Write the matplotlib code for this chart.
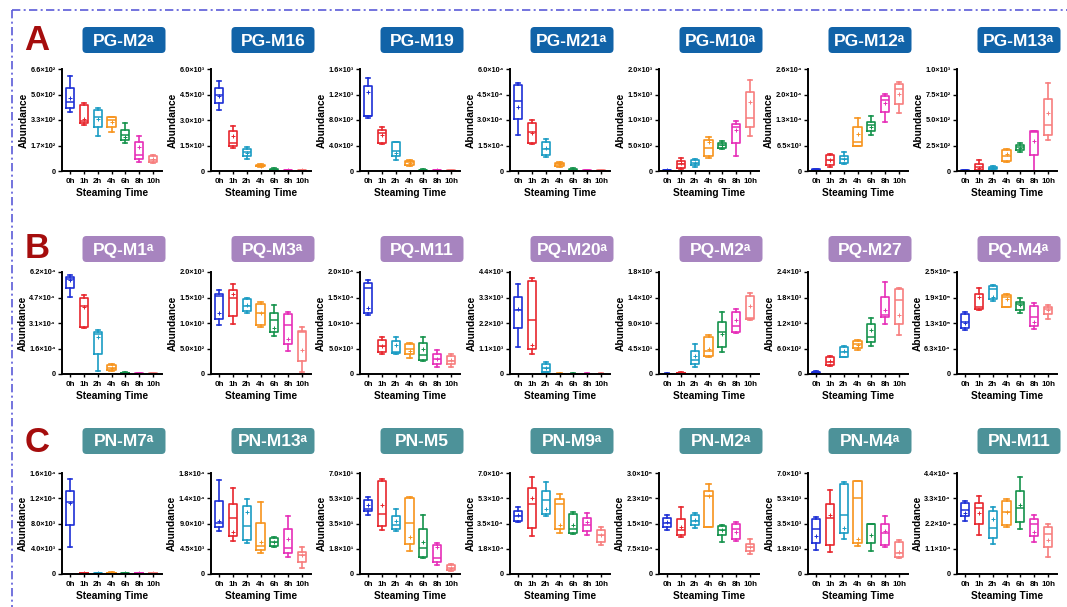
import matplotlib
matplotlib.use('Agg')
import matplotlib.pyplot as plt
from matplotlib.patches import FancyBboxPatch

plt.rcParams['font.family'] = ['Liberation Sans', 'DejaVu Sans']

categories = ['0h', '1h', '2h', '4h', '6h', '8h', '10h']
cat_colors = ['#1c2fd6', '#e8262d', '#1a9cc4', '#f7941d', '#14924b', '#e62eb8', '#f77e7e']

# each row: [min, q1, median, q3, max, mean] for one steaming time
PG_M2 = [[384, 405, 444, 539, 617, 474], [298, 313, 326, 427, 442, 336], [229, 287, 352, 395, 410, 337],
         [250, 287, 330, 347, 352, 315], [179, 200, 233, 265, 308, 222], [60, 78, 104, 190, 229, 157],
         [50, 56, 71, 99, 103, 78]]
PG_M16 = [[3584, 4020, 4475, 4871, 5267, 4436], [1347, 1446, 1644, 2337, 2634, 2079], [713, 911, 1089, 1307, 1386, 1050],
          [220, 270, 320, 380, 430, 320], [10, 30, 70, 120, 160, 80], [10, 20, 40, 60, 80, 40],
          [10, 20, 30, 50, 60, 35]]
PG_M19 = [[835, 860, 870, 1335, 1457, 1240], [422, 438, 600, 650, 686, 560], [174, 243, 306, 449, 454, 290],
          [85, 95, 137, 158, 174, 130], [2, 6, 12, 20, 26, 12], [2, 4, 8, 12, 15, 8], [2, 4, 7, 11, 14, 7]]
PG_M21 = [[21400, 30300, 41200, 50500, 51500, 37800], [16000, 16400, 22800, 28300, 29900, 22500],
          [8100, 9500, 12900, 17000, 18800, 13500], [2600, 3200, 4200, 5000, 5500, 4200],
          [100, 200, 500, 900, 1600, 600], [50, 100, 200, 300, 400, 200], [50, 100, 200, 300, 400, 200]]
PG_M10 = [[3, 6, 10, 14, 18, 10], [46, 66, 131, 197, 262, 164], [85, 111, 164, 216, 243, 164],
          [262, 295, 459, 610, 675, 577], [426, 446, 511, 557, 590, 505], [295, 557, 866, 931, 977, 807],
          [689, 872, 1036, 1554, 1790, 1344]]
PG_M12 = [[100, 200, 300, 400, 500, 300], [1100, 1540, 2830, 4100, 4400, 2800], [1800, 2150, 3090, 3950, 4800, 3100],
          [6300, 6500, 7300, 11200, 13600, 9400], [9300, 10100, 11600, 12500, 14000, 11200],
          [12500, 15000, 18000, 19000, 19600, 17400], [14700, 17200, 20900, 22300, 22700, 19600]]
PG_M13 = [[0, 2, 4, 6, 8, 4], [0, 10, 43, 66, 109, 33], [10, 17, 33, 43, 53, 30], [86, 102, 149, 201, 218, 168],
          [191, 201, 231, 251, 274, 230], [0, 158, 380, 389, 396, 297], [300, 350, 449, 710, 861, 564]]

PQ_M1 = [[46800, 52500, 57900, 58900, 60400, 57000], [27800, 28400, 41400, 45900, 48000, 41000],
         [2100, 12400, 24300, 25300, 26800, 22700], [1600, 2300, 3700, 5400, 5800, 3700],
         [200, 400, 600, 800, 1000, 600], [100, 200, 300, 400, 500, 300], [100, 200, 300, 400, 500, 300]]
PQ_M3 = [[970, 1088, 1528, 1574, 1646, 1187], [990, 1134, 1495, 1646, 1757, 1574], [1187, 1233, 1331, 1462, 1482, 1350],
         [925, 957, 1200, 1364, 1410, 1200], [754, 826, 1056, 1187, 1344, 900], [459, 590, 970, 1180, 1220, 689],
         [33, 249, 826, 852, 918, 479]]
PQ_M11 = [[11600, 11900, 16900, 17900, 18400, 13000], [3900, 4400, 5400, 6700, 7200, 5400],
          [3900, 4100, 4300, 6400, 7300, 5600], [3100, 3900, 4900, 5900, 6000, 4500],
          [2560, 2750, 3700, 6000, 7300, 5000], [1440, 1900, 2900, 3900, 4700, 3000],
          [1440, 1900, 2500, 3500, 3900, 2700]]
PQ_M20 = [[1150, 2000, 2770, 3320, 3900, 2800], [866, 1080, 2340, 4000, 4140, 1230], [72, 101, 245, 433, 534, 250],
          [5, 10, 15, 20, 30, 15], [5, 10, 15, 20, 30, 15], [5, 10, 15, 20, 30, 15], [5, 10, 15, 20, 30, 15]]
PQ_M2 = [[0.2, 0.4, 0.6, 0.8, 1.2, 0.6], [0.5, 1, 1.5, 2.5, 3.5, 1.5], [13, 18, 24, 41, 53, 32],
         [30, 31, 40, 65, 68, 45], [38, 48, 75, 91, 109, 70], [72, 75, 84, 109, 115, 95], [96, 97, 99, 137, 143, 120]]
PQ_M27 = [[20, 30, 45, 55, 70, 45], [188, 211, 289, 391, 422, 300], [391, 407, 524, 641, 657, 530],
          [563, 602, 704, 782, 797, 690], [664, 758, 876, 1165, 1321, 1032], [1188, 1345, 1384, 1814, 2165, 1501],
          [915, 1172, 1735, 2009, 2032, 1384]]
PQ_M4 = [[109000, 112000, 128000, 146000, 152000, 125000], [156000, 160000, 164000, 197000, 211000, 189000],
         [178000, 185000, 209000, 216000, 219000, 189000], [164000, 164000, 189000, 193000, 197000, 185000],
         [150000, 156000, 171000, 177000, 187000, 170000], [110000, 118000, 140000, 166000, 174000, 128000],
         [134000, 146000, 160000, 163000, 169000, 158000]]

PN_M7 = [[4300, 7800, 11400, 13200, 15000, 11200], [50, 80, 110, 150, 200, 110], [40, 70, 100, 130, 170, 100],
         [60, 100, 140, 190, 240, 140], [40, 70, 100, 130, 170, 100], [50, 80, 110, 150, 200, 110],
         [50, 80, 120, 160, 210, 120]]
PN_M13 = [[7700, 8400, 9100, 13000, 16800, 9500], [5900, 6800, 9900, 12400, 15300, 7500],
          [5600, 6000, 8600, 12100, 13400, 11000], [3700, 4300, 5000, 9100, 12800, 5700],
          [4900, 5000, 5700, 6500, 6600, 5700], [3100, 3700, 4600, 8100, 10400, 6300],
          [1000, 2100, 3400, 4000, 4900, 3400]]
PN_M5 = [[41, 44, 45.2, 51, 53.7, 48], [30.8, 33, 41.3, 64.3, 65.9, 48], [29.6, 31.4, 33.7, 40.2, 44.8, 36.5],
         [15.8, 20.7, 35.4, 52.6, 53.2, 25.7], [10.8, 11.9, 18.1, 31.4, 40.6, 22.3], [6.2, 8.5, 10.8, 20, 21.6, 19],
         [2.3, 2.8, 4.4, 6.2, 6.9, 4.4]]
PN_M9 = [[36000, 36700, 40000, 43600, 46400, 41100], [26200, 32100, 48200, 59700, 67500, 52600],
         [39900, 41800, 51400, 57400, 63600, 45000], [28700, 31400, 48700, 52100, 55100, 33700],
         [28000, 28500, 31400, 41300, 42900, 34000], [26900, 29800, 33700, 39000, 42200, 36000],
         [20400, 22300, 26900, 30300, 32600, 26900]]
PN_M2 = [[130000, 140000, 152000, 167000, 174000, 155000], [110000, 117000, 131000, 164000, 199000, 140000],
         [137000, 145000, 157000, 176000, 182000, 160000], [140000, 140000, 231000, 246000, 266000, 231000],
         [95000, 115000, 130000, 143000, 147000, 130000], [98000, 105000, 135000, 149000, 154000, 125000],
         [59000, 69000, 81000, 90000, 103000, 80000]]
PN_M4 = [[1650, 2160, 3140, 3830, 3950, 2600], [1540, 2040, 3900, 4870, 5830, 4100],
         [2460, 2870, 4060, 6240, 6400, 3210], [1930, 2160, 5280, 6470, 6470, 2400],
         [1610, 2160, 3490, 3490, 3490, 2690], [1880, 2040, 2850, 3440, 3990, 3000],
         [1080, 1150, 1470, 2230, 2340, 1500]]
PN_M11 = [[23100, 25100, 28000, 31000, 32000, 26500], [16900, 21900, 28700, 31000, 33800, 26500],
          [13000, 15700, 20200, 27300, 29100, 24000], [20500, 21500, 27000, 32000, 32500, 27000],
          [19800, 22600, 28900, 36100, 42400, 30000], [14000, 16600, 21600, 24100, 25500, 18500],
          [7500, 11800, 17600, 20500, 21600, 15000]]

# metabolite names and whether they carry the superscript "a"
names_A = ['PG-M2', 'PG-M16', 'PG-M19', 'PG-M21', 'PG-M10', 'PG-M12', 'PG-M13']
sup_A = [True, False, False, True, True, True, True]
names_B = ['PQ-M1', 'PQ-M3', 'PQ-M11', 'PQ-M20', 'PQ-M2', 'PQ-M27', 'PQ-M4']
sup_B = [True, True, False, True, True, False, True]
names_C = ['PN-M7', 'PN-M13', 'PN-M5', 'PN-M9', 'PN-M2', 'PN-M4', 'PN-M11']
sup_C = [True, True, False, True, True, True, False]

data_A = [PG_M2, PG_M16, PG_M19, PG_M21, PG_M10, PG_M12, PG_M13]
data_B = [PQ_M1, PQ_M3, PQ_M11, PQ_M20, PQ_M2, PQ_M27, PQ_M4]
data_C = [PN_M7, PN_M13, PN_M5, PN_M9, PN_M2, PN_M4, PN_M11]

ymax_A = [660, 6000, 1600, 60000, 2000, 26000, 1000]
ymax_B = [62000, 2000, 20000, 4400, 180, 2400, 250000]
ymax_C = [16000, 18000, 70, 70000, 300000, 7000, 44000]

yticklabels_A = [
    ['0', '1.7×10²', '3.3×10²', '5.0×10²', '6.6×10²'],
    ['0', '1.5×10³', '3.0×10³', '4.5×10³', '6.0×10³'],
    ['0', '4.0×10²', '8.0×10²', '1.2×10³', '1.6×10³'],
    ['0', '1.5×10⁴', '3.0×10⁴', '4.5×10⁴', '6.0×10⁴'],
    ['0', '5.0×10²', '1.0×10³', '1.5×10³', '2.0×10³'],
    ['0', '6.5×10³', '1.3×10⁴', '2.0×10⁴', '2.6×10⁴'],
    ['0', '2.5×10²', '5.0×10²', '7.5×10²', '1.0×10³']]
yticklabels_B = [
    ['0', '1.6×10⁴', '3.1×10⁴', '4.7×10⁴', '6.2×10⁴'],
    ['0', '5.0×10²', '1.0×10³', '1.5×10³', '2.0×10³'],
    ['0', '5.0×10³', '1.0×10⁴', '1.5×10⁴', '2.0×10⁴'],
    ['0', '1.1×10³', '2.2×10³', '3.3×10³', '4.4×10³'],
    ['0', '4.5×10¹', '9.0×10¹', '1.4×10²', '1.8×10²'],
    ['0', '6.0×10²', '1.2×10³', '1.8×10³', '2.4×10³'],
    ['0', '6.3×10⁴', '1.3×10⁵', '1.9×10⁵', '2.5×10⁵']]
yticklabels_C = [
    ['0', '4.0×10³', '8.0×10³', '1.2×10⁴', '1.6×10⁴'],
    ['0', '4.5×10³', '9.0×10³', '1.4×10⁴', '1.8×10⁴'],
    ['0', '1.8×10¹', '3.5×10¹', '5.3×10¹', '7.0×10¹'],
    ['0', '1.8×10⁴', '3.5×10⁴', '5.3×10⁴', '7.0×10⁴'],
    ['0', '7.5×10⁴', '1.5×10⁵', '2.3×10⁵', '3.0×10⁵'],
    ['0', '1.8×10³', '3.5×10³', '5.3×10³', '7.0×10³'],
    ['0', '1.1×10⁴', '2.2×10⁴', '3.3×10⁴', '4.4×10⁴']]

panel_letters = ['A', 'B', 'C']
row_box_colors = ['#1163a8', '#a784bf', '#4d9299']

# ---------------- layout (pixels) ----------------
W, H = 1067, 607
fig = plt.figure(figsize=(W / 100, H / 100), dpi=100)

bg = fig.add_axes([0, 0, 1, 1])
bg.set_xlim(0, W)
bg.set_ylim(H, 0)
bg.axis('off')

border_color = '#5b5bd8'
bg.plot([12, W], [10, 10], color=border_color, lw=1.2, ls=(0, (5, 2, 1.2, 2)))
bg.plot([12, 12], [10, H], color=border_color, lw=1.2, ls=(0, (5, 2, 1.2, 2)))

ax_lefts = [62, 211, 360, 510, 659, 808, 957]
ax_w = 100
row_tops = [69, 272, 473]
row_bottoms = [171, 374, 574]
box_cy = [40, 249, 441]
letter_cy = [40, 248, 443]

rows = [(names_A, sup_A, data_A, ymax_A, yticklabels_A),
        (names_B, sup_B, data_B, ymax_B, yticklabels_B),
        (names_C, sup_C, data_C, ymax_C, yticklabels_C)]

def to_stats(rowvals):
    return [dict(whislo=r[0], q1=r[1], med=r[2], q3=r[3], whishi=r[4], mean=r[5], fliers=[]) for r in rowvals]

for ri, (names, sups, datas, ymaxs, ylabs) in enumerate(rows):
    bg.text(37, letter_cy[ri], panel_letters[ri], color='#a50d0d', fontsize=25, fontweight='bold',
            ha='center', va='center')
    for ci in range(7):
        left = ax_lefts[ci]
        bw, bh = 83, 26
        cx = left + 62
        bg.add_patch(FancyBboxPatch((cx - bw / 2, box_cy[ri] - bh / 2), bw, bh,
                                    boxstyle='round,pad=0,rounding_size=4',
                                    facecolor=row_box_colors[ri], edgecolor='none'))
        label = names[ci] + ('ᵃ' if sups[ci] else '')
        bg.text(cx, box_cy[ri] + 1, label, color='white', fontsize=12.5, fontweight='bold',
                ha='center', va='center')

        top, bot = row_tops[ri], row_bottoms[ri]
        ax = fig.add_axes([left / W, 1 - bot / H, ax_w / W, (bot - top) / H])
        stats = to_stats(datas[ci])
        for k, st in enumerate(stats):
            col = cat_colors[k]
            ax.bxp([st], positions=[k], widths=0.6, capwidths=0.3, showmeans=True, showfliers=False,
                   manage_ticks=False,
                   boxprops=dict(color=col, lw=1.2),
                   whiskerprops=dict(color=col, lw=1.2),
                   capprops=dict(color=col, lw=1.2),
                   medianprops=dict(color=col, lw=1.1),
                   meanprops=dict(marker='+', markeredgecolor=col, markersize=2.2, mew=0.7))
        ax.set_xlim(-0.58, 6.65)
        ax.set_ylim(0, ymaxs[ci])
        ax.set_yticks([ymaxs[ci] * k / 4 for k in range(5)])
        ax.set_yticklabels(ylabs[ci], fontsize=5.3, fontweight='bold')
        ax.set_xticks(range(len(categories)))
        ax.set_xticklabels(categories, fontsize=5.8, fontweight='bold')
        for s in ['top', 'right']:
            ax.spines[s].set_visible(False)
        for s in ['left', 'bottom']:
            ax.spines[s].set_linewidth(1.4)
        ax.tick_params(axis='y', length=3, width=1.0, pad=1.5)
        ax.tick_params(axis='x', length=2, width=1.0, pad=3)
        ax.set_ylabel('Abundance', fontsize=7.3, fontweight='bold', labelpad=1)
        ax.set_xlabel('Steaming Time', fontsize=7.3, fontweight='bold', labelpad=2)
        ax.patch.set_alpha(0)

fig.savefig('out.png', dpi=100)
